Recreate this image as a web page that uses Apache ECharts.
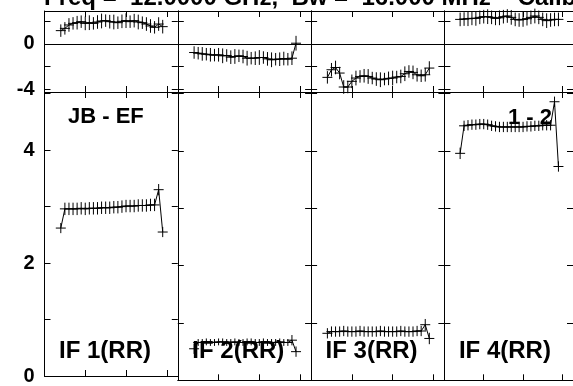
<!DOCTYPE html>
<html><head><meta charset="utf-8">
<script src="https://cdn.jsdelivr.net/npm/echarts@6/dist/echarts.min.js"></script>
<style>html,body{margin:0;padding:0;background:#fff;overflow:hidden}#c{width:573px;height:386px}</style>
</head><body><div id="c"></div>
<script>
// ---- data ----
const channels = [4,5,6,7,8,9,10,11,12,13,14,15,16,17,18,19,20,21,22,23,24,25,26,27,28,29];
const ifLabels = ['IF 1(RR)','IF 2(RR)','IF 3(RR)','IF 4(RR)'];
const baselineLabel = 'JB - EF';
const stokesLabel = '1 - 2';
const titleText = 'Freq =  12.0000 GHz,  Bw =  16.000 MHz    Calibrated';

const amp1 = [2.62,2.96,2.96,2.96,2.96,2.97,2.96,2.97,2.97,2.97,2.98,2.98,2.98,2.99,2.99,3.00,3.01,3.01,3.01,3.02,3.02,3.02,3.03,3.03,3.30,2.55];
const amp2 = [0.55,0.66,0.66,0.67,0.66,0.66,0.67,0.67,0.66,0.66,0.67,0.66,0.66,0.67,0.67,0.66,0.66,0.67,0.66,0.66,0.66,0.67,0.66,0.66,0.70,0.50];
const amp3 = [0.82,0.85,0.85,0.85,0.86,0.85,0.85,0.85,0.86,0.85,0.85,0.85,0.85,0.86,0.85,0.85,0.85,0.85,0.86,0.85,0.85,0.85,0.86,0.86,0.97,0.73];
const amp4 = [3.96,4.44,4.45,4.46,4.46,4.47,4.47,4.46,4.44,4.43,4.42,4.42,4.42,4.42,4.42,4.42,4.42,4.43,4.43,4.44,4.44,4.45,4.45,4.45,4.86,3.73];

const ampErr1 = [0.09,0.11,0.11,0.11,0.11,0.11,0.11,0.11,0.11,0.11,0.11,0.11,0.11,0.11,0.11,0.11,0.11,0.11,0.11,0.11,0.11,0.11,0.11,0.11,0.10,0.09];
const ampErr2 = [0.09,0.06,0.06,0.06,0.06,0.06,0.06,0.06,0.06,0.06,0.06,0.06,0.06,0.06,0.06,0.06,0.06,0.06,0.06,0.06,0.06,0.06,0.06,0.06,0.09,0.09];
const ampErr3 = [0.09,0.09,0.09,0.09,0.09,0.09,0.09,0.09,0.09,0.09,0.09,0.09,0.09,0.09,0.09,0.09,0.09,0.09,0.09,0.09,0.09,0.09,0.09,0.09,0.10,0.10];
const ampErr4 = [0.10,0.09,0.09,0.09,0.09,0.09,0.09,0.09,0.09,0.09,0.09,0.09,0.09,0.09,0.09,0.09,0.09,0.09,0.09,0.09,0.09,0.09,0.09,0.09,0.09,0.09];

const ph1 = [1.17,1.37,1.67,1.81,1.87,1.96,1.81,1.87,1.81,1.93,2.02,2.05,1.96,1.93,1.87,1.99,2.05,1.96,2.05,1.93,1.87,1.75,1.58,1.46,1.75,1.52];
const ph2 = [-0.76,-0.82,-0.88,-0.91,-0.96,-0.99,-0.96,-1.05,-1.02,-1.17,-1.11,-1.05,-1.11,-1.26,-1.26,-1.26,-1.20,-1.20,-1.32,-1.40,-1.35,-1.35,-1.29,-1.35,-1.26,0.06];
const ph3 = [-2.95,-2.28,-2.08,-2.57,-3.80,-3.80,-3.30,-3.01,-2.87,-2.81,-2.87,-3.01,-3.10,-3.16,-3.10,-3.04,-3.01,-2.92,-2.87,-2.63,-2.43,-2.51,-2.72,-2.81,-2.72,-2.13];
const ph4 = [2.16,2.19,2.22,2.25,2.25,2.34,2.40,2.40,2.34,2.25,2.30,2.40,2.46,2.34,2.16,2.11,2.16,2.22,2.34,2.46,2.34,2.16,2.05,2.11,2.16,2.16];

const phErr1 = [0.55,0.55,0.6,0.55,0.6,0.55,0.6,0.65,0.55,0.6,0.65,0.55,0.6,0.65,0.55,0.6,0.65,0.55,0.6,0.65,0.55,0.6,0.6,0.55,0.6,0.6];
const phErr2 = [0.55,0.55,0.6,0.55,0.6,0.55,0.6,0.65,0.55,0.6,0.65,0.55,0.6,0.65,0.55,0.6,0.65,0.55,0.6,0.65,0.55,0.6,0.6,0.55,0.6,0.65];
const phErr3 = [0.55,0.6,0.6,0.55,0.6,0.55,0.6,0.65,0.55,0.6,0.65,0.55,0.6,0.65,0.55,0.6,0.65,0.55,0.6,0.65,0.55,0.6,0.6,0.55,0.6,0.6];
const phErr4 = [0.6,0.6,0.65,0.6,0.65,0.6,0.6,0.65,0.6,0.6,0.65,0.6,0.6,0.65,0.6,0.6,0.65,0.6,0.6,0.65,0.6,0.6,0.65,0.6,0.6,0.6];

const ampTicks = [0,1,2,3,4,5];
const ampTickLabels = [0,2,4];
const phTicks = [-4,-2,0,2];
const phTickLabels = [-4,0];
const chanTicks = [10,20,30];

const amps = [amp1,amp2,amp3,amp4];
const ampErrs = [ampErr1,ampErr2,ampErr3,ampErr4];
const phs = [ph1,ph2,ph3,ph4];
const phErrs = [phErr1,phErr2,phErr3,phErr4];

// ---- layout ----
const FONT = '"Liberation Sans", Arial, Helvetica, sans-serif';
const P_LEFT = 44.5, P_W = 133.3;
const PH_TOP = 11, PH_H = 81;
const AM_TOP = 92, AM_H = 288.3;
const X_MIN = 0, X_MAX = 32.7;
const PH_MIN = -4.24, PH_MAX = 2.9;
const AM_MIN = 0, AM_MAX = 5.03;

const chart = echarts.init(document.getElementById('c'), null, {renderer:'canvas'});
const grids = [], xAxes = [], yAxes = [], series = [];

function cross(params, api) {
  const x = api.value(0), y = api.value(1), e = api.value(2);
  const c = api.coord([x, y]);
  const t = api.coord([x, y + e]);
  const b = api.coord([x, y - e]);
  const hw = 5;
  return {type:'group', children:[
    {type:'line', shape:{x1:c[0]-hw, y1:c[1], x2:c[0]+hw, y2:c[1]}, style:{stroke:'#000', lineWidth:1}},
    {type:'line', shape:{x1:c[0], y1:t[1], x2:c[0], y2:b[1]}, style:{stroke:'#000', lineWidth:1}}
  ]};
}

const lineStyle = {color:'#000', width:1};
const tickStyle = {show:true, inside:true, length:6, lineStyle:{color:'#000', width:1}};

for (let p = 0; p < 4; p++) {
  for (let s = 0; s < 2; s++) {
    const g = grids.length;
    const isPh = s === 0;
    grids.push({left: P_LEFT + P_W*p, width: P_W, top: isPh ? PH_TOP : AM_TOP, height: isPh ? PH_H : AM_H, show:false, containLabel:false});
    ['bottom','top'].forEach(pos => xAxes.push({
      type:'value', gridIndex:g, position:pos, min:X_MIN, max:X_MAX,
      axisLine:{show:true, onZero:false, lineStyle},
      axisTick:Object.assign({customValues:chanTicks}, tickStyle),
      axisLabel:{show:false}, splitLine:{show:false}
    }));
    ['left','right'].forEach(pos => {
      const showLab = (pos === 'left' && p === 0);
      yAxes.push({
        type:'value', gridIndex:g, position:pos,
        min: isPh ? PH_MIN : AM_MIN, max: isPh ? PH_MAX : AM_MAX,
        axisLine:{show:true, onZero:false, lineStyle},
        axisTick:Object.assign({customValues: isPh ? phTicks : ampTicks}, tickStyle),
        axisLabel:{show:showLab, customValues: isPh ? phTickLabels : ampTickLabels,
          color:'#000', fontFamily:FONT, fontWeight:'bold', fontSize:20, margin:10},
        splitLine:{show:false}
      });
    });
    const vals = isPh ? phs[p] : amps[p];
    const errs = isPh ? phErrs[p] : ampErrs[p];
    const pts = channels.map((c,i) => [c, vals[i]]);
    const ptsErr = channels.map((c,i) => [c, vals[i], errs[i]]);
    const lineSer = {
      type:'line', xAxisIndex:g*2, yAxisIndex:g*2, data:pts, showSymbol:false, symbol:'none',
      lineStyle, silent:true, animation:false, z:3
    };
    if (isPh) {
      lineSer.markLine = {silent:true, symbol:'none', label:{show:false}, animation:false,
        lineStyle:{color:'#000', width:1, type:'solid'}, data:[{yAxis:0}]};
    }
    series.push(lineSer);
    series.push({type:'custom', xAxisIndex:g*2, yAxisIndex:g*2, data:ptsErr, renderItem:cross,
      silent:true, animation:false, clip:false, z:4});
  }
}

const graphic = [];
function txt(text, x, y, size) {
  graphic.push({type:'text', x, y, z:10, silent:true,
    style:{text, fill:'#000', font:'bold ' + size + 'px ' + FONT, align:'left', verticalAlign:'middle',
      textAlign:'left', textVerticalAlign:'middle'}});
}
txt(titleText, 44, -2, 24);
txt(baselineLabel, 68, 117, 22);
txt(stokesLabel, 508, 117.5, 22);
ifLabels.forEach((l, i) => txt(l, 59 + P_W*i, 351, 24));

chart.setOption({
  animation:false,
  backgroundColor:'#fff',
  grid:grids, xAxis:xAxes, yAxis:yAxes, series, graphic
});
</script></body></html>
